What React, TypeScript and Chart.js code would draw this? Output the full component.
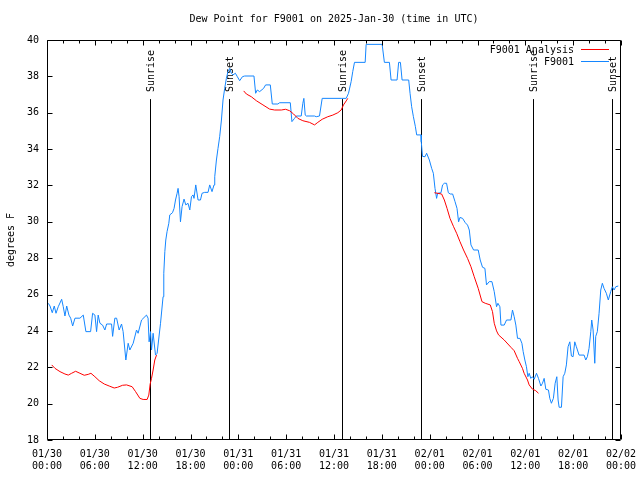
import React, { useEffect, useRef } from "react";
import { Chart, registerables } from "chart.js";

Chart.register(...registerables);

// Hours since 2025-01-30 00:00 UTC
const blueTimes = [
  0.16, 0.38, 0.66, 0.91, 1.13, 1.41, 1.84, 2.04, 2.25, 2.47, 2.75, 2.97, 3.22, 3.51, 4.13, 4.55, 4.88, 5.47, 5.72, 6.01,
  6.22, 6.42, 6.64, 6.97, 7.26, 7.48, 8.1, 8.23, 8.51, 8.73, 9.05, 9.35, 9.55, 9.89, 10.18, 10.39, 10.81, 11.23, 11.43, 11.86,
  12.48, 12.68, 12.81, 12.99, 13.11, 13.31, 13.61, 13.81, 14.24, 14.56, 14.65, 14.78, 14.9, 15.06, 15.28, 15.4, 15.74, 15.94, 16.12, 16.32,
  16.44, 16.57, 16.74, 16.94, 17.19, 17.41, 17.69, 17.91, 18.12, 18.32, 18.44, 18.66, 18.95, 19.25, 19.45, 19.78, 20.2, 20.41, 20.7, 20.95,
  21.04, 21.25, 21.45, 21.66, 21.88, 22.08, 22.29, 22.5, 22.7, 22.92, 23.13, 23.33, 23.63, 23.88, 24.17, 24.51, 24.79, 25.96, 26.17, 26.38,
  26.67, 27.17, 27.42, 28.01, 28.26, 28.96, 29.18, 30.52, 30.72, 31.05, 31.27, 31.89, 32.09, 32.22, 32.39, 32.52, 33.56, 33.77, 34.18, 34.52,
  36.9, 37.53, 37.82, 38.15, 38.35, 38.57, 39.91, 40.03, 42.04, 42.32, 42.95, 43.16, 43.91, 44.11, 44.33, 44.54, 45.37, 45.54, 45.74, 45.96,
  46.21, 46.37, 46.92, 46.95, 47.1, 47.42, 47.62, 47.96, 48.25, 48.46, 48.67, 48.87, 49.0, 49.42, 49.62, 49.84, 50.12, 50.34, 50.59, 50.88,
  51.18, 51.43, 51.63, 51.8, 52.13, 52.47, 52.75, 52.97, 53.18, 53.51, 54.09, 54.34, 54.63, 54.93, 55.13, 55.47, 55.81, 56.1, 56.39, 56.56,
  56.81, 56.94, 57.35, 57.64, 58.19, 58.39, 58.6, 58.81, 59.02, 59.32, 59.57, 59.73, 59.94, 60.14, 60.32, 60.48, 60.69, 60.89, 61.11, 61.4,
  61.65, 61.95, 62.15, 62.36, 62.57, 62.9, 63.07, 63.27, 63.52, 63.74, 63.95, 64.11, 64.24, 64.53, 64.74, 64.95, 65.15, 65.36, 65.58, 65.78,
  65.99, 66.2, 66.4, 66.74, 67.37, 67.58, 67.78, 67.99, 68.21, 68.33, 68.5, 68.71, 68.83, 69.03, 69.25, 69.46, 69.66, 69.87, 70.16, 70.41,
  70.71, 70.92, 71.13, 71.34, 71.66,
];
const blueValues = [
  25.52, 25.37, 25.0, 25.37, 24.97, 25.33, 25.74, 25.33, 24.82, 25.37, 24.87, 24.7, 24.27, 24.7, 24.7, 24.87, 23.96, 23.96, 24.97, 24.87,
  23.96, 24.87, 24.42, 24.32, 24.05, 24.38, 24.38, 23.7, 24.7, 24.7, 24.05, 24.38, 23.96, 22.4, 23.32, 22.95, 23.32, 24.05, 23.87, 24.6,
  24.87, 24.7, 23.4, 23.96, 22.95, 23.87, 22.67, 22.77, 24.42, 25.88, 27.17, 28.36, 29.0, 29.46, 29.92, 30.38, 30.5, 30.74, 31.2, 31.57,
  31.84, 31.38, 30.0, 30.83, 31.25, 30.93, 31.02, 30.65, 31.38, 31.48, 31.29, 32.03, 31.2, 31.2, 31.57, 31.62, 31.62, 32.03, 31.66, 32.03,
  32.48, 33.4, 34.04, 34.68, 35.6, 36.7, 37.34, 37.89, 38.26, 38.44, 38.17, 38.08, 38.17, 37.98, 37.76, 37.98, 38.02, 38.02, 37.07, 37.25,
  37.16, 37.34, 37.53, 37.53, 36.48, 36.48, 36.55, 36.55, 35.51, 35.69, 35.82, 35.82, 36.52, 36.79, 35.87, 35.82, 35.82, 35.78, 35.82, 36.79,
  36.79, 36.79, 37.07, 37.71, 38.26, 38.77, 38.77, 39.76, 39.76, 38.77, 38.77, 37.8, 37.8, 38.77, 38.77, 37.8, 37.8, 37.07, 36.33, 35.78,
  35.23, 34.78, 34.78, 34.4, 33.6, 33.58, 33.77, 33.4, 32.94, 32.67, 31.84, 31.29, 31.57, 31.6, 32.03, 32.12, 32.12, 31.6, 31.53, 31.53,
  31.11, 30.74, 30.0, 30.24, 30.19, 29.95, 29.82, 29.55, 28.73, 28.45, 28.45, 27.9, 27.5, 27.44, 26.53, 26.71, 26.71, 26.16, 25.33, 25.52,
  25.33, 24.32, 24.32, 24.6, 24.6, 25.15, 24.78, 24.32, 23.59, 23.59, 23.32, 22.86, 22.4, 22.03, 21.48, 21.67, 21.39, 21.48, 21.34, 21.67,
  21.39, 20.97, 21.12, 21.39, 20.79, 20.75, 20.29, 20.02, 20.29, 21.12, 21.48, 20.2, 19.8, 19.8, 21.48, 21.67, 22.13, 23.13, 23.4, 22.62,
  22.58, 23.4, 23.13, 22.67, 22.67, 22.4, 22.58, 23.04, 23.96, 24.6, 24.05, 22.22, 23.7, 23.96, 24.97, 26.25, 26.62, 26.34, 26.07, 25.7,
  26.16, 26.43, 26.25, 26.43, 26.47,
];

const redTimes = [
  0.59, 1.0, 1.63, 2.25, 2.67, 3.09, 3.59, 4.13, 4.67, 5.17, 5.51, 6.01, 6.55, 7.18, 7.8, 8.43, 8.85, 9.48, 9.98, 10.68,
  11.11, 11.65, 12.06, 12.56, 12.77, 12.94, 13.11, 13.31, 13.52, 13.74, 19.0,
  24.67, 25.01, 25.63, 26.26, 27.09, 27.92, 28.55, 29.39, 29.93, 30.43, 30.93, 31.47, 32.09, 32.93, 33.56, 33.97, 34.52, 35.22, 35.85,
  36.48, 36.9, 37.19, 37.53, 37.73, 43.0,
  48.59, 49.5, 49.84, 50.18, 50.55, 51.0, 51.38, 51.8, 52.25, 52.75, 53.18, 53.59, 54.09, 54.56, 54.97, 55.6, 55.88, 56.1, 56.39, 56.64,
  57.35, 58.19, 58.6, 59.02, 59.23, 59.64, 59.85, 60.27, 60.48, 60.89, 61.31, 61.65,
];
const redValues = [
  22.13, 21.94, 21.76, 21.63, 21.57, 21.67, 21.78, 21.67, 21.56, 21.61, 21.67, 21.48, 21.26, 21.08, 20.97, 20.86, 20.9, 21.01, 21.03, 20.93,
  20.66, 20.29, 20.23, 20.23, 20.47, 21.08, 21.39, 21.85, 22.4, 22.67, null,
  37.2, 37.03, 36.88, 36.66, 36.43, 36.2, 36.15, 36.15, 36.19, 36.11, 35.93, 35.69, 35.56, 35.47, 35.33, 35.47, 35.64, 35.78, 35.87,
  36.0, 36.15, 36.43, 36.65, 36.79, null,
  31.6, 31.53, 31.2, 30.74, 30.19, 29.73, 29.37, 28.91, 28.45, 27.99, 27.53, 26.98, 26.34, 25.61, 25.52, 25.43, 25.06, 24.42, 24.0, 23.78,
  23.5, 23.1, 22.91, 22.49, 22.31, 21.94, 21.67, 21.3, 21.03, 20.8, 20.71, 20.57,
];

const sunTimes = [12.94, 22.83, 36.98, 46.87, 61.02, 70.91];
const sunLabels = ["Sunrise", "Sunset", "Sunrise", "Sunset", "Sunrise", "Sunset"];
const sunLineTop = 36.75;

const xTickDates = ["01/30", "01/30", "01/30", "01/30", "01/31", "01/31", "01/31", "01/31", "02/01", "02/01", "02/01", "02/01", "02/02"];
const xTickTimes = ["00:00", "06:00", "12:00", "18:00", "00:00", "06:00", "12:00", "18:00", "00:00", "06:00", "12:00", "18:00", "00:00"];

const titleText = "Dew Point for F9001 on 2025-Jan-30 (time in UTC)";
const yTitle = "degrees F";
const seriesNames = ["F9001 Analysis", "F9001"];
const seriesColors = ["#ff0000", "#1486ff"];

const FONT = "'DejaVu Sans Mono', monospace";

const overlay = {
  id: "overlay",
  beforeDatasetsDraw(chart: any) {
    const { ctx, scales } = chart;
    const xs = scales.x;
    const ys = scales.y;
    ctx.save();
    ctx.strokeStyle = "#000";
    ctx.lineWidth = 1;
    ctx.fillStyle = "#000";
    ctx.font = `10px ${FONT}`;
    const yTop = ys.getPixelForValue(sunLineTop);
    const yBot = ys.bottom;
    sunTimes.forEach((t, i) => {
      const x = Math.round(xs.getPixelForValue(t)) + 0.5;
      ctx.beginPath();
      ctx.moveTo(x, yBot);
      ctx.lineTo(x, yTop);
      ctx.stroke();
      ctx.save();
      ctx.translate(x + 0.5, yTop - 7);
      ctx.rotate(-Math.PI / 2);
      ctx.textAlign = "left";
      ctx.textBaseline = "middle";
      ctx.fillText(sunLabels[i], 0, 0);
      ctx.restore();
    });
    ctx.restore();
  },
  afterDraw(chart: any) {
    const { ctx, chartArea, scales } = chart;
    const { left, right, top, bottom } = chartArea;
    const xs = scales.x;
    const ys = scales.y;
    ctx.save();
    ctx.strokeStyle = "#000";
    ctx.lineWidth = 1;
    const L = Math.round(left) + 0.5;
    const R = Math.round(right) - 0.5;
    const T = Math.round(top) + 0.5;
    const B = Math.round(bottom) - 0.5;
    ctx.beginPath();
    ctx.rect(L, T, R - L, B - T);
    ctx.stroke();
    ctx.beginPath();
    for (let h = 0; h <= 72; h += 2) {
      const x = Math.round(xs.getPixelForValue(h)) + 0.5;
      const len = h % 6 === 0 ? 5 : 3;
      ctx.moveTo(x, B);
      ctx.lineTo(x, B - len);
      ctx.moveTo(x, T);
      ctx.lineTo(x, T + len);
    }
    for (let v = 18; v <= 40; v += 2) {
      const y = Math.round(ys.getPixelForValue(v)) + 0.5;
      ctx.moveTo(L, y);
      ctx.lineTo(L + 5, y);
      ctx.moveTo(R, y);
      ctx.lineTo(R - 5, y);
    }
    ctx.stroke();

    ctx.fillStyle = "#000";
    ctx.font = `10px ${FONT}`;
    ctx.textAlign = "center";
    ctx.textBaseline = "middle";
    ctx.fillText(titleText, (left + right) / 2, 19);

    ctx.textAlign = "right";
    const rowsY = [50, 62];
    seriesNames.forEach((name, i) => {
      const y = rowsY[i];
      ctx.fillStyle = "#000";
      ctx.fillText(name, 574, y);
      ctx.strokeStyle = seriesColors[i];
      ctx.beginPath();
      ctx.moveTo(581, y - 0.5);
      ctx.lineTo(609, y - 0.5);
      ctx.stroke();
    });
    ctx.restore();
  },
};

export default function App() {
  const ref = useRef<HTMLCanvasElement | null>(null);

  useEffect(() => {
    document.body.style.margin = "0";
    if (!ref.current) return;
    const blueData = blueTimes.map((t, i) => ({ x: t, y: blueValues[i] }));
    const redData = redTimes.map((t, i) => ({ x: t, y: redValues[i] }));
    const chart = new Chart(ref.current, {
      type: "line",
      data: {
        datasets: [
          {
            label: seriesNames[0],
            data: redData as any,
            borderColor: seriesColors[0],
            borderWidth: 1,
            pointRadius: 0,
            tension: 0,
            spanGaps: false,
          },
          {
            label: seriesNames[1],
            data: blueData,
            borderColor: seriesColors[1],
            borderWidth: 1,
            pointRadius: 0,
            tension: 0,
          },
        ],
      },
      options: {
        animation: false,
        responsive: false,
        devicePixelRatio: 1,
        layout: { padding: { left: 0, top: 40, right: 19, bottom: 0 } },
        plugins: {
          legend: { display: false },
          title: { display: false },
          tooltip: { enabled: false },
        },
        scales: {
          x: {
            type: "linear",
            min: 0,
            max: 72,
            grid: { display: false, drawTicks: false },
            border: { display: false },
            afterFit: (s: any) => {
              s.height = 40;
              s.paddingLeft = 0;
              s.paddingRight = 0;
            },
            ticks: {
              stepSize: 6,
              autoSkip: false,
              maxRotation: 0,
              minRotation: 0,
              padding: 8,
              color: "#000",
              font: { family: FONT, size: 10, lineHeight: 1.2 },
              callback: (v: any) => {
                const i = Math.round(Number(v) / 6);
                return [xTickDates[i], xTickTimes[i]];
              },
            },
          },
          y: {
            min: 18,
            max: 40,
            grid: { display: false, drawTicks: false },
            border: { display: false },
            afterFit: (s: any) => {
              s.width = 47;
              s.paddingTop = 0;
              s.paddingBottom = 0;
            },
            title: {
              display: true,
              text: yTitle,
              color: "#000",
              font: { family: FONT, size: 10, lineHeight: 1.2 },
              padding: { top: 5, bottom: 0 },
            },
            ticks: {
              stepSize: 2,
              padding: 8,
              color: "#000",
              font: { family: FONT, size: 10 },
            },
          },
        },
      },
      plugins: [overlay],
    });
    return () => chart.destroy();
  }, []);

  return (
    <div style={{ width: 640, height: 480, background: "#fff" }}>
      <canvas ref={ref} width={640} height={480} style={{ display: "block" }} />
    </div>
  );
}
